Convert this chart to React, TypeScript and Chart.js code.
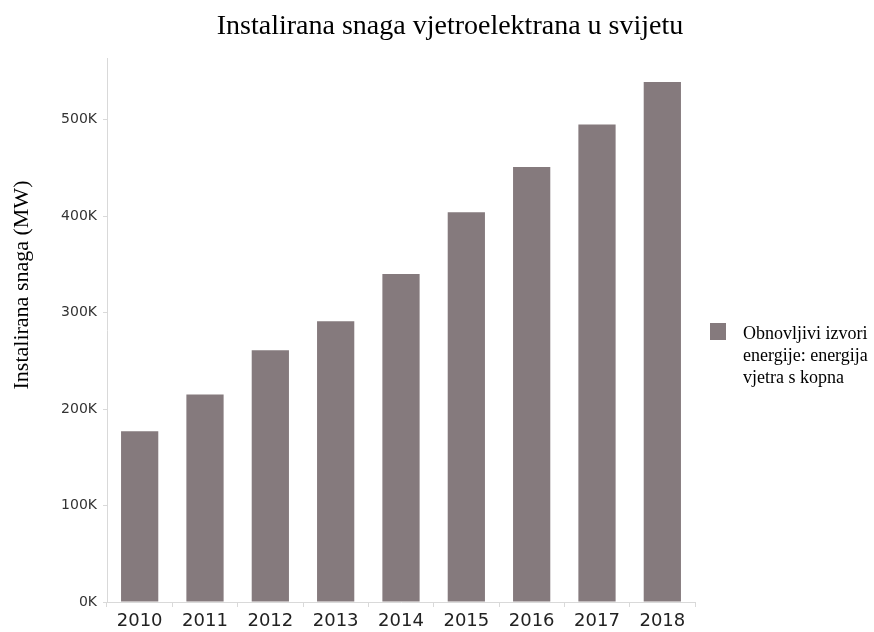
import React, { useEffect, useRef } from "react";
import { Chart, registerables } from "chart.js";

Chart.register(...registerables);

const years = ["2010", "2011", "2012", "2013", "2014", "2015", "2016", "2017", "2018"];
const capacityMW = [177000, 215000, 261000, 291000, 340000, 404000, 451000, 495000, 539000];
const yTickValues = [0, 100000, 200000, 300000, 400000, 500000];
const seriesName = "Obnovljivi izvori energije: energija vjetra s kopna";
const legendLines = ["Obnovljivi izvori", "energije: energija", "vjetra s kopna"];
const titleText = "Instalirana snaga vjetroelektrana u svijetu";
const yAxisTitle = "Instalirana snaga (MW)";

const BAR = "#857a7d";
const AXIS = "#d9d9d9";
const SERIF = "'Liberation Serif', 'Times New Roman', serif";
const SANS = "'DejaVu Sans', Verdana, sans-serif";

const textPlugin = {
  id: "customText",
  afterDraw(chart: any) {
    const ctx = chart.ctx;
    const area = chart.chartArea;
    ctx.save();
    // title
    ctx.fillStyle = "#000";
    ctx.font = `28px ${SERIF}`;
    ctx.textAlign = "center";
    ctx.textBaseline = "alphabetic";
    ctx.fillText(titleText, 450, 34);
    // y axis title
    ctx.save();
    ctx.translate(28, 285);
    ctx.rotate(-Math.PI / 2);
    ctx.font = `22px ${SERIF}`;
    ctx.textAlign = "center";
    ctx.fillText(yAxisTitle, 0, 0);
    ctx.restore();
    // legend
    const x0 = area.right + 15;
    ctx.fillStyle = BAR;
    ctx.fillRect(x0, 323, 16, 17);
    ctx.fillStyle = "#000";
    ctx.font = `18px ${SERIF}`;
    ctx.textAlign = "left";
    legendLines.forEach((line, i) => {
      ctx.fillText(line, x0 + 33, 339 + i * 22);
    });
    ctx.restore();
  },
};

export default function App() {
  const ref = useRef<HTMLCanvasElement>(null);
  useEffect(() => {
    if (!ref.current) return;
    const chart = new Chart(ref.current, {
      type: "bar",
      data: {
        labels: years,
        datasets: [
          {
            label: seriesName,
            data: capacityMW,
            backgroundColor: BAR,
            borderWidth: 0,
            barPercentage: 0.57,
            categoryPercentage: 1,
          },
        ],
      },
      plugins: [textPlugin],
      options: {
        animation: false,
        responsive: false,
        maintainAspectRatio: false,
        layout: { padding: { left: 0, right: 179, top: 58, bottom: 0 } },
        plugins: {
          legend: { display: false },
          tooltip: { enabled: false },
          title: { display: false },
        },
        scales: {
          x: {
            offset: true,
            border: { color: AXIS, width: 1 },
            grid: {
              display: true,
              drawOnChartArea: false,
              drawTicks: true,
              tickLength: 5,
              color: AXIS,
              offset: true,
            },
            ticks: {
              color: "#222",
              font: { family: SANS, size: 18 },
              padding: 4,
              maxRotation: 0,
            },
            afterFit(scale: any) {
              scale.height = 30;
            },
          },
          y: {
            min: 0,
            max: 564000,
            border: { color: AXIS, width: 1 },
            grid: {
              display: true,
              drawOnChartArea: false,
              drawTicks: true,
              tickLength: 4,
              color: AXIS,
            },
            ticks: {
              color: "#333",
              font: { family: SANS, size: 14 },
              padding: 6,
              callback: (v: any) => `${Math.round(Number(v) / 1000)}K`,
            },
            afterBuildTicks(scale: any) {
              scale.ticks = yTickValues.map((v) => ({ value: v }));
            },
            afterFit(scale: any) {
              scale.width = 107;
            },
          },
        },
      },
    } as any);
    return () => chart.destroy();
  }, []);
  return (
    <div style={{ position: "fixed", left: 0, top: 0, width: 874, height: 632, background: "#fff" }}>
      <canvas ref={ref} width={874} height={632} style={{ width: 874, height: 632 }} />
    </div>
  );
}
